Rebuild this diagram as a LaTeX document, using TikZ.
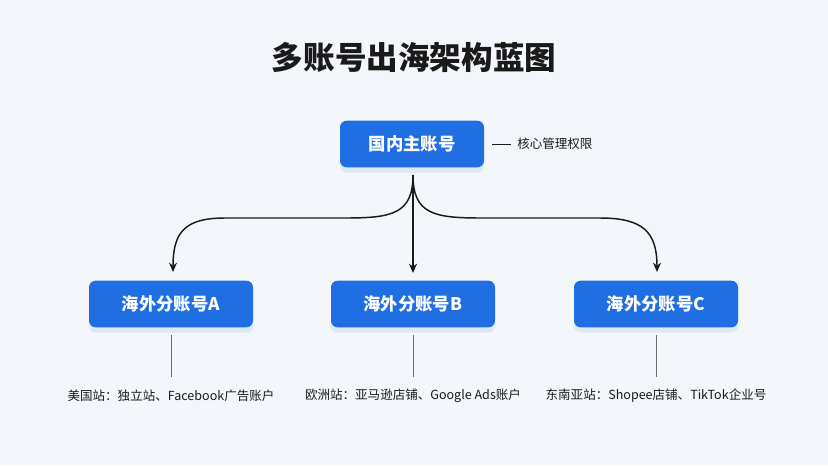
\documentclass[tikz,border=0pt]{standalone}
\usepackage{fontspec}
\setmainfont{Noto Sans CJK SC}
\usetikzlibrary{arrows.meta,shadows}
\definecolor{bgcol}{HTML}{F3F6FA}
\definecolor{boxblue}{HTML}{1F6FE3}
\definecolor{inkcol}{HTML}{1A1A1A}
\definecolor{stemcol}{HTML}{6B6B6B}
\begin{document}
\begin{tikzpicture}[x=0.75pt,y=-0.75pt,
    acct/.style={fill=boxblue,rounded corners=5pt,text=white,font=\bfseries\fontsize{13}{15}\selectfont,
      minimum width=123pt,minimum height=35pt,inner sep=0pt,
      drop shadow={shadow xshift=0pt,shadow yshift=-4pt,opacity=0.10,fill=boxblue}},
    note/.style={text=inkcol,font=\fontsize{9.4}{11}\selectfont,inner sep=0pt},
    link/.style={draw=inkcol,line width=1.1pt,-{Stealth[length=7pt,width=6pt]}}]
  \fill[bgcol] (0,0) rectangle (828,465);
  \node[text=inkcol,font=\bfseries\fontsize{23.7}{26}\selectfont] (title) at (414,57) {多账号出海架构蓝图};
  % main account
  \node[acct,minimum width=108pt] (main) at (412,144) {国内主账号};
  \coordinate (tickL) at (492,144);
  \coordinate (tickR) at (511,144);
  \draw[inkcol,line width=0.6pt] (tickL)--(tickR);
  \node[note,anchor=west] (rights) at (517,144) {核心管理权限};
  % overseas accounts
  \node[acct] (subA) at (171,304) {海外分账号A};
  \node[acct] (subB) at (413,304) {海外分账号B};
  \node[acct] (subC) at (656,304) {海外分账号C};
  \coordinate (fork) at (413,175);
  \coordinate (endA) at (173,272);
  \coordinate (endB) at (413,273);
  \coordinate (endC) at (657,272);
  \draw[link] (fork) .. controls (413,214) and (392,218) .. (345,218) -- (225,218)
     .. controls (185,218) and (173,232) .. (endA);
  \draw[link] (fork) -- (endB);
  \draw[link] (fork) .. controls (413,214) and (434,218) .. (481,218) -- (600,218)
     .. controls (643,218) and (657,232) .. (endC);
  % site notes
  \foreach \s/\x/\txt in {A/171/{美国站：独立站、Facebook广告账户},
                         B/413/{欧洲站：亚马逊店铺、Google Ads账户},
                         C/656/{东南亚站：Shopee店铺、TikTok企业号}}{
    \coordinate (top\s) at (\x,335);
    \coordinate (bot\s) at (\x,377);
    \draw[stemcol,line width=0.6pt] (top\s)--(bot\s);
    \node[note] (site\s) at (\x,396) {\txt};
  }
\end{tikzpicture}
\end{document}
